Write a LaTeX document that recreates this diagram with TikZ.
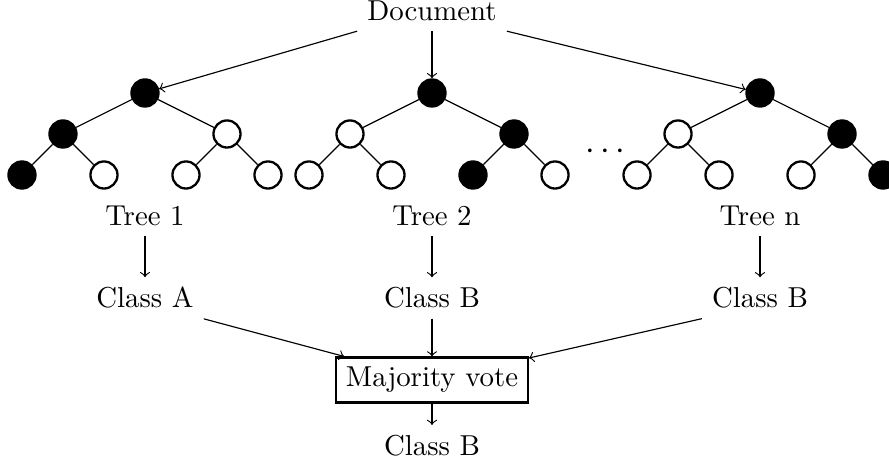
\documentclass[tikz,border=0pt]{standalone}
\usepackage{amsmath}
\usepackage{amssymb}
\usepackage{tikz}

\begin{document}
\begin{tikzpicture}[
    emptynode/.style={circle,draw,thick,fill=white,inner sep=0pt,minimum size=0.33cm},
    fullnode/.style={emptynode,fill=black},
    votebox/.style={draw,thick}]
    \useasboundingbox (-1.768,-4.549) rectangle (9.073,1.134);

    % Input
    \node (doc) at (3.5,1) {Document};

    % Tree 1
    \node[fullnode] (a) at (0,0) {};
    \node[fullnode] (al) at (-1,-0.5) {};
    \node[emptynode] (ar) at (1,-0.5) {};
    \node[fullnode] (all) at (-1.5,-1) {};
    \node[emptynode] (alr) at (-0.5,-1) {};
    \node[emptynode] (arl) at (0.5,-1) {};
    \node[emptynode] (arr) at (1.5,-1) {};
    \draw (a) -- (al);
    \draw (a) -- (ar);
    \draw (al) -- (all);
    \draw (al) -- (alr);
    \draw (ar) -- (arl);
    \draw (ar) -- (arr);

    % Tree 2
    \node[fullnode] (b) at (3.5,0) {};
    \node[emptynode] (bl) at (2.5,-0.5) {};
    \node[fullnode] (br) at (4.5,-0.5) {};
    \node[emptynode] (bll) at (2,-1) {};
    \node[emptynode] (blr) at (3,-1) {};
    \node[fullnode] (brl) at (4,-1) {};
    \node[emptynode] (brr) at (5,-1) {};
    \draw (b) -- (bl);
    \draw (b) -- (br);
    \draw (bl) -- (bll);
    \draw (bl) -- (blr);
    \draw (br) -- (brl);
    \draw (br) -- (brr);

    \node (dots) at (5.65,-0.72) {\large$\cdots$};

    % Tree n
    \node[fullnode] (c) at (7.5,0) {};
    \node[emptynode] (cl) at (6.5,-0.5) {};
    \node[fullnode] (cr) at (8.5,-0.5) {};
    \node[emptynode] (cll) at (6,-1) {};
    \node[emptynode] (clr) at (7,-1) {};
    \node[emptynode] (crl) at (8,-1) {};
    \node[fullnode] (crr) at (9,-1) {};
    \draw (c) -- (cl);
    \draw (c) -- (cr);
    \draw (cl) -- (cll);
    \draw (cl) -- (clr);
    \draw (cr) -- (crl);
    \draw (cr) -- (crr);

    \draw[->] (doc.south west) -- (a);
    \draw[->] (doc) -- (b);
    \draw[->] (doc.south east) -- (c);

    % Predictions
    \node (ta) at (0,-1.5) {Tree 1};
    \node (tb) at (3.5,-1.5) {Tree 2};
    \node (tc) at (7.5,-1.5) {Tree n};
    \node (ka) at (0,-2.5) {Class A};
    \node (kb) at (3.5,-2.5) {Class B};
    \node (kc) at (7.5,-2.5) {Class B};
    \draw[->] (ta) -- (ka);
    \draw[->] (tb) -- (kb);
    \draw[->] (tc) -- (kc);

    % Vote
    \node[votebox] (vote) at (3.5,-3.5) {Majority vote};
    \node (out) at (3.5,-4.3) {Class B};
    \draw[->] (ka.south east) -- (vote);
    \draw[->] (kb) -- (vote);
    \draw[->] (kc.south west) -- (vote);
    \draw[->] (vote) -- (out);
\end{tikzpicture}
\end{document}
